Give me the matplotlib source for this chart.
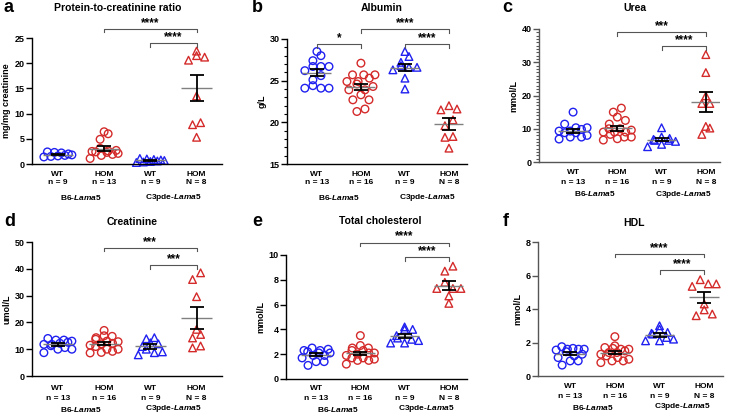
import numpy as np
import matplotlib.pyplot as plt
from matplotlib.transforms import blended_transform_factory

plt.rcParams['font.family'] = ['Liberation Sans', 'DejaVu Sans']
plt.rcParams['mathtext.fontset'] = 'custom'
plt.rcParams['mathtext.it'] = 'Liberation Sans:italic:bold'
plt.rcParams['mathtext.rm'] = 'Liberation Sans:bold'

# groups: B6 WT, B6 HOM, C3pde WT, C3pde HOM
groups = ['WT', 'HOM', 'WT', 'HOM']
n_pcr = ['n = 9', 'n = 13', 'n = 9', 'N = 8']
n_other = ['n = 13', 'n = 16', 'n = 9', 'N = 8']
strains = ['B6-$\\mathit{Lama5}$', 'C3pde-$\\mathit{Lama5}$']

pcr = [
    [2.4, 2.3, 2.2, 2.0, 1.8, 1.7, 1.6, 1.5, 1.4],
    [6.4, 6.0, 4.9, 3.1, 2.7, 2.6, 2.5, 2.4, 2.3, 2.1, 1.9, 1.7, 1.1],
    [1.1, 1.0, 0.9, 0.8, 0.7, 0.6, 0.5, 0.4, 0.3],
    [22.4, 21.5, 21.2, 20.6, 13.5, 8.2, 7.8, 5.3],
]
albumin = [
    [28.5, 28.0, 27.4, 26.7, 26.7, 26.7, 26.2, 25.6, 25.1, 24.4, 24.1, 24.1, 24.1],
    [27.1, 25.7, 25.7, 25.7, 25.3, 24.9, 24.9, 24.6, 24.3, 23.9, 23.9, 23.3,
     22.7, 22.7, 21.6, 21.3],
    [28.5, 27.9, 27.2, 26.8, 26.6, 26.6, 26.3, 25.3, 24.0],
    [22.0, 21.6, 21.5, 20.3, 19.6, 18.3, 18.2, 16.9],
]
urea = [
    [15.0, 11.4, 10.3, 10.3, 9.8, 9.3, 9.3, 8.8, 8.8, 8.0, 7.5, 7.5, 6.9],
    [16.2, 15.0, 13.5, 12.5, 11.4, 10.0, 10.0, 9.6, 9.0, 9.0, 9.0, 8.3, 7.5,
     7.5, 7.0, 6.6],
    [10.3, 7.5, 7.1, 6.8, 6.5, 6.5, 6.2, 5.3, 4.6],
    [32.3, 26.9, 19.9, 17.6, 17.6, 10.7, 10.2, 8.3],
]
creatinine = [
    [14.0, 13.4, 13.4, 13.0, 12.6, 12.2, 11.8, 11.8, 11.3, 10.6, 10.0, 10.0, 8.7],
    [17.0, 15.0, 14.8, 14.3, 13.7, 13.0, 12.8, 12.2, 12.0, 11.5, 11.0, 10.0,
     10.0, 9.2, 8.8, 8.6],
    [14.3, 13.9, 12.4, 12.0, 11.0, 10.0, 9.0, 8.7, 7.9],
    [38.5, 36.0, 29.6, 17.4, 15.5, 14.2, 11.2, 10.5],
]
cholesterol = [
    [2.5, 2.4, 2.3, 2.3, 2.2, 2.1, 2.1, 1.9, 1.9, 1.7, 1.4, 1.4, 1.1],
    [3.5, 2.7, 2.5, 2.5, 2.3, 2.3, 2.1, 2.1, 2.0, 1.9, 1.7, 1.7, 1.6, 1.5, 1.5, 1.2],
    [4.2, 4.0, 4.0, 3.5, 3.3, 3.2, 3.1, 2.9, 2.9],
    [9.1, 8.7, 7.8, 7.3, 7.3, 7.3, 6.7, 6.1],
]
hdl = [
    [1.75, 1.65, 1.6, 1.6, 1.6, 1.55, 1.45, 1.3, 1.2, 1.1, 0.9, 0.9, 0.65],
    [2.35, 1.8, 1.7, 1.65, 1.6, 1.6, 1.5, 1.4, 1.4, 1.3, 1.2, 1.1, 1.0, 0.9, 0.9, 0.8],
    [3.0, 2.8, 2.6, 2.55, 2.5, 2.3, 2.2, 2.1, 2.1],
    [5.75, 5.5, 5.5, 5.35, 4.3, 3.95, 3.7, 3.6],
]

W, H = 738, 418
BLUE = '#2020f0'
RED = '#d42a2a'
colors = [BLUE, RED, BLUE, RED]
markers = ['o', 'o', '^', '^']

fig = plt.figure(figsize=(W / 100, H / 100), dpi=100)


def fpos(x, y):
    return x / W, 1 - y / H


def swarm_offsets(ax, xc, vals, d=7.0, half=14.0):
    # group points into rows of similar height and spread each row sideways
    trans = ax.transData
    ypx = trans.transform(np.column_stack([np.full(len(vals), xc), vals]))[:, 1]
    unit = trans.transform((xc + 1, 0))[0] - trans.transform((xc, 0))[0]
    order = np.argsort(ypx)
    rows, cur = [], [order[0]]
    for i in order[1:]:
        if ypx[i] - ypx[cur[0]] < d:
            cur.append(i)
        else:
            rows.append(cur)
            cur = [i]
    rows.append(cur)
    off = np.zeros(len(vals))
    for row in rows:
        n = len(row)
        if n == 1:
            continue
        sp = min(d * 1.15, 2 * half / (n - 1))
        # zigzag: alternate low / high values across the row
        zz = []
        lo, hi = 0, n - 1
        while lo <= hi:
            zz.append(row[lo])
            if lo != hi:
                zz.append(row[hi])
            lo += 1
            hi -= 1
        for k, i in enumerate(zz):
            off[i] = (k - (n - 1) / 2) * sp / unit
    return off


def panel(box, xlim, data, ylim, yticks, minor, title, title_xy, letter, letter_xy,
          ylabel, nlabels, text_y, brackets, spine_col='black'):
    x0, x1, ytop, ybot = box
    ax = fig.add_axes([x0 / W, 1 - ybot / H, (x1 - x0) / W, (ybot - ytop) / H])
    ax.set_xlim(*xlim)
    ax.set_ylim(*ylim)
    ax.set_yticks(yticks)
    if minor:
        ax.set_yticks(np.arange(ylim[0], ylim[1] + 0.01, minor), minor=True)
    for s in ['top', 'right']:
        ax.spines[s].set_visible(False)
    for s in ['left', 'bottom']:
        ax.spines[s].set_color(spine_col)
        ax.spines[s].set_linewidth(1.0)
    ax.set_xticks([])
    ax.tick_params(axis='y', which='major', length=4, width=1.0, labelsize=6.5,
                   color=spine_col, pad=1.5)
    ax.tick_params(axis='y', which='minor', length=2, width=0.8, color=spine_col)
    for lab in ax.get_yticklabels():
        lab.set_fontweight('bold')
    ax.set_ylabel(ylabel, fontsize=6.5, fontweight='bold', labelpad=2)

    for i, vals in enumerate(data):
        vals = np.array(vals)
        off = swarm_offsets(ax, i, vals)
        ax.scatter(i + off, vals, s=30, marker=markers[i], facecolors='none',
                   edgecolors=colors[i], linewidths=1.0, zorder=2, clip_on=False)
        m = vals.mean()
        sem = vals.std(ddof=1) / np.sqrt(len(vals))
        ax.hlines(m, i - 0.33, i + 0.33, color='#808080', lw=1.0, zorder=3)
        ax.errorbar(i, m, yerr=sem, fmt='none', ecolor='black', elinewidth=1.3,
                    capsize=5, capthick=1.3, zorder=4)

    # significance brackets
    yr = ylim[1] - ylim[0]
    drop = 3.5 * yr / (ybot - ytop)
    for (a, b, y, lab) in brackets:
        ax.plot([a, a, b, b], [y - drop, y, y, y - drop], color='#555555', lw=0.8,
                clip_on=False)
        ax.annotate(lab, ((a + b) / 2, y), xytext=(0, 0), textcoords='offset points',
                    ha='center', va='bottom', fontsize=8.5, fontweight='bold',
                    annotation_clip=False)

    tr = blended_transform_factory(ax.transData, fig.transFigure)
    for i in range(4):
        ax.text(i, 1 - text_y[0] / H, groups[i], transform=tr, ha='center',
                va='center', fontsize=6, fontweight='bold')
        ax.text(i, 1 - text_y[1] / H, nlabels[i], transform=tr, ha='center',
                va='center', fontsize=6, fontweight='bold')
    for k, s in enumerate(strains):
        ax.text(0.5 + 2 * k, 1 - text_y[2] / H, s, transform=tr, ha='center',
                va='center', fontsize=6, fontweight='bold')

    fig.text(*fpos(*title_xy), title, ha='center', va='center', fontsize=7.5,
             fontweight='bold')
    fig.text(*fpos(*letter_xy), letter, ha='left', va='center', fontsize=13,
             fontweight='bold')
    return ax


panel((32, 222, 38, 164), (-0.56, 3.55), pcr, (0, 25), range(0, 26, 5), None,
      'Protein-to-creatinine ratio', (118, 8), 'a', (3, 8), 'mg/mg creatinine',
      n_pcr, (174, 183, 197), [(1, 3, 26.8, '****'), (2, 3, 24.0, '****')])
panel((287, 467, 39, 164), (-0.68, 3.41), albumin, (15, 30), range(15, 31, 5), 1,
      'Albumin', (382, 8), 'b', (252, 8), 'g/L',
      n_other, (174, 183, 197),
      [(0, 1, 29.4, '*'), (1, 3, 31.2, '****'), (2, 3, 29.4, '****')])
panel((539, 720, 29, 162), (-0.77, 3.32), urea, (0, 40), range(0, 41, 10), 1,
      'Urea', (635, 8), 'c', (502, 8), 'mmol/L',
      n_other, (173, 183, 194), [(1, 3, 39.0, '***'), (2, 3, 34.8, '****')],
      spine_col='#555555')
panel((32, 222, 242, 376), (-0.56, 3.55), creatinine, (0, 50), range(0, 51, 10), None,
      'Creatinine', (132, 222), 'd', (4, 222), 'umol/L',
      n_other, (388, 398, 409), [(1, 3, 47.8, '***'), (2, 3, 41.3, '***')])
panel((286, 467, 255, 379), (-0.68, 3.41), cholesterol, (0, 10), range(0, 11, 2), None,
      'Total cholesterol', (380, 221), 'e', (252, 222), 'mmol/L',
      n_other, (388, 398, 409), [(1, 3, 11.0, '****'), (2, 3, 9.8, '****')])
panel((538, 723, 242, 376), (-0.72, 3.42), hdl, (0, 8), range(0, 9, 2), None,
      'HDL', (634, 223), 'f', (503, 222), 'mmol/L',
      n_other, (387, 397, 407), [(1, 3, 7.3, '****'), (2, 3, 6.3, '****')],
      spine_col='#555555')

fig.savefig('out.png', dpi=100)
